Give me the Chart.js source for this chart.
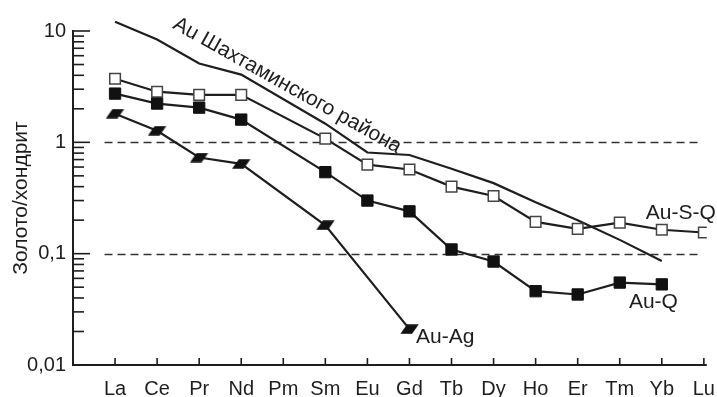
<!DOCTYPE html>
<html>
<head>
<meta charset="utf-8">
<script src="https://cdn.jsdelivr.net/npm/chart.js@4"></script>
<style>
  html, body { margin: 0; padding: 0; background: #fff; }
  #wrap { width: 717px; height: 397px; }
</style>
</head>
<body>
<div id="wrap"><canvas id="chart"></canvas></div>
<script>
const elements = ["La", "Ce", "Pr", "Nd", "Pm", "Sm", "Eu", "Gd", "Tb", "Dy", "Ho", "Er", "Tm", "Yb", "Lu"];

// gold / chondrite, null = no point
const auShakhtama = [12.1, 8.4, 5.1, 4.06, null, 1.47, 0.81, 0.77, 0.58, 0.43, 0.29, 0.20, 0.133, 0.086, null];
const auSQ = [3.73, 2.85, 2.67, 2.67, null, 1.08, 0.63, 0.57, 0.40, 0.33, 0.193, 0.167, 0.19, 0.164, 0.155];
const auQ = [2.74, 2.23, 2.05, 1.6, null, 0.54, 0.30, 0.24, 0.109, 0.085, 0.046, 0.043, 0.055, 0.053, null];
const auAg = [1.81, 1.27, 0.73, 0.64, null, 0.18, null, 0.021, null, null, null, null, null, null, null];

const yTickLabels = { "10": "10", "1": "1", "0.1": "0,1", "0.01": "0,01" };
const yDecades = [0.01, 0.1, 1, 10];
const yMinorTicks = [2, 3, 4, 5, 6, 7, 8, 9];
const dashedLevels = [1, 0.1];

const FONT = "'Liberation Sans', Arial, Helvetica, sans-serif";
const INK = "#1e1e1e";

function toPoints(arr) {
  return arr.map((v, i) => v == null ? null : { x: i, y: v }).filter(p => p);
}

function isDecade(v) {
  const l = Math.log10(v);
  return Math.abs(l - Math.round(l)) < 1e-6;
}

function makeParallelogram() {
  const c = document.createElement("canvas");
  c.width = 19;
  c.height = 10;
  const g = c.getContext("2d");
  g.fillStyle = "#111";
  g.beginPath();
  g.moveTo(7, 0.3);
  g.lineTo(18.7, 0.3);
  g.lineTo(12, 9.7);
  g.lineTo(0.3, 9.7);
  g.closePath();
  g.fill();
  return c;
}

const decorations = {
  id: "decorations",
  beforeDatasetsDraw(chart) {
    const { ctx, scales: { x, y } } = chart;
    ctx.save();
    // dashed reference lines
    ctx.strokeStyle = "#333";
    ctx.lineWidth = 1.3;
    ctx.setLineDash([8, 5]);
    dashedLevels.forEach(lv => {
      const py = Math.round(y.getPixelForValue(lv)) + 0.5;
      ctx.beginPath();
      ctx.moveTo(x.getPixelForValue(-0.25), py);
      ctx.lineTo(x.getPixelForValue(13.95), py);
      ctx.stroke();
    });
    ctx.restore();
  },
  afterDraw(chart) {
    const { ctx, scales: { x, y } } = chart;
    const area = chart.chartArea;
    ctx.getTransform();
    ctx.save();
    ctx.fillStyle = INK;
    // axis lines
    ctx.fillRect(area.left - 1, area.top - 1, 2, area.bottom - area.top + 2);
    ctx.fillRect(area.left - 1, area.bottom - 1, area.right - area.left + 1, 2);
    // inward ticks: decades long, 2..9 short
    yDecades.forEach(dec => {
      const py = y.getPixelForValue(dec);
      ctx.fillRect(area.left, py - 0.8, 17, 1.6);
      if (dec >= 10) return;
      yMinorTicks.forEach(m => {
        const my = y.getPixelForValue(dec * m);
        ctx.fillRect(area.left, my - 0.8, 11, 1.6);
      });
    });
    elements.forEach((_, i) => {
      const px = x.getPixelForValue(i);
      ctx.fillRect(px - 0.8, area.bottom - 7, 1.6, 7);
    });
    // read back once so the axis strokes get flushed
    ctx.getImageData(Math.round(area.left), 200, 1, 1);
    ctx.getImageData(300, Math.round(area.bottom), 1, 1);

    // series labels
    ctx.font = "21px " + FONT;
    ctx.textBaseline = "middle";
    ctx.textAlign = "center";
    ctx.fillText("Au-S-Q", x.getPixelForValue(13.45), y.getPixelForValue(0.23));
    ctx.fillText("Au-Q", x.getPixelForValue(12.8), y.getPixelForValue(0.037));
    ctx.fillText("Au-Ag", x.getPixelForValue(7.85), y.getPixelForValue(0.0178));

    // rotated label along the regional curve
    ctx.textAlign = "left";
    ctx.textBaseline = "alphabetic";
    ctx.translate(x.getPixelForValue(1.35), y.getPixelForValue(10.7));
    ctx.rotate(29.2 * Math.PI / 180);
    ctx.fillText("Au Шахтаминского района", 0, 0);
    ctx.restore();
  }
};

const lineBase = {
  borderColor: INK,
  borderWidth: 2.2,
  tension: 0,
  fill: false
};

new Chart(document.getElementById("chart"), {
  type: "line",
  data: {
    datasets: [
      Object.assign({}, lineBase, {
        label: "Au-Q",
        data: toPoints(auQ),
        pointStyle: "rect",
        pointRadius: 8,
        pointBackgroundColor: "#111",
        pointBorderColor: "#111",
        pointBorderWidth: 1
      }),
      Object.assign({}, lineBase, {
        label: "Au-S-Q",
        data: toPoints(auSQ),
        pointStyle: "rect",
        pointRadius: 7.5,
        pointBackgroundColor: "#fff",
        pointBorderColor: "#444",
        pointBorderWidth: 1.5
      }),
      Object.assign({}, lineBase, {
        label: "Au-Ag",
        data: toPoints(auAg),
        pointStyle: makeParallelogram(),
        pointRadius: 8
      }),
      Object.assign({}, lineBase, {
        label: "Au Шахтаминского района",
        data: toPoints(auShakhtama),
        pointRadius: 0,
        // La sits above 10, let the line run past the top
        clip: { left: 5, right: 5, top: 25, bottom: 5 }
      })
    ]
  },
  options: {
    responsive: true,
    maintainAspectRatio: false,
    animation: false,
    layout: { padding: { left: 0, top: 31, right: 10, bottom: 0 } },
    plugins: {
      legend: { display: false },
      tooltip: { enabled: false }
    },
    scales: {
      x: {
        type: "linear",
        min: -1,
        max: 14.07,
        afterBuildTicks: s => { s.ticks = elements.map((_, i) => ({ value: i })); },
        afterFit: s => { s.height = 32; s.paddingLeft = 0; s.paddingRight = 0; },
        grid: { display: false, drawTicks: false },
        border: { display: false },
        ticks: {
          autoSkip: false,
          maxRotation: 0,
          padding: 12,
          color: INK,
          font: { family: FONT, size: 20 },
          callback: v => elements[v] ?? ""
        }
      },
      y: {
        type: "logarithmic",
        min: 0.01,
        max: 10,
        afterFit: s => { s.width = 73; },
        grid: { display: false, drawTicks: false },
        border: { display: false },
        title: {
          display: true,
          text: "Золото/хондрит",
          color: INK,
          font: { family: FONT, size: 21 },
          padding: { top: 9, bottom: 0 }
        },
        ticks: {
          autoSkip: false,
          padding: 7,
          color: INK,
          font: { family: FONT, size: 20 },
          callback: v => isDecade(v) ? (yTickLabels[String(v)] ?? "") : ""
        }
      }
    }
  },
  plugins: [decorations]
});
</script>
</body>
</html>
